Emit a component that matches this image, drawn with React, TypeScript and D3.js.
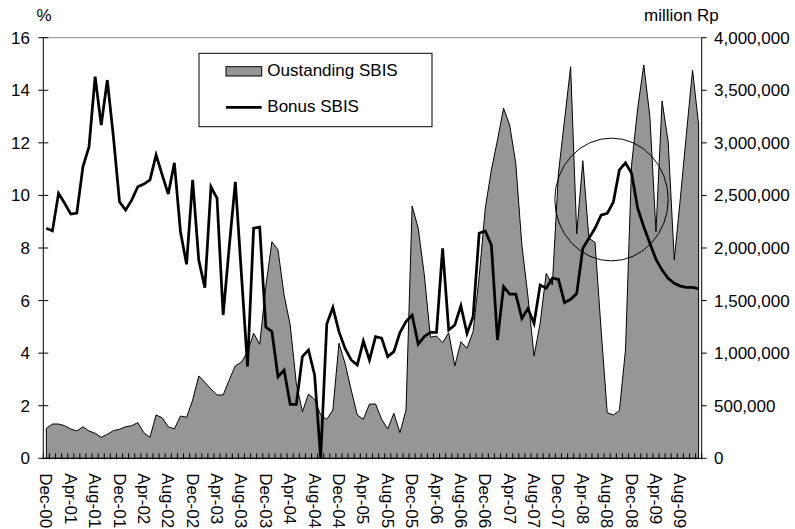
import React from "react";
import * as d3 from "d3";

const monthNames = ["Jan", "Feb", "Mar", "Apr", "May", "Jun", "Jul", "Aug", "Sep", "Oct", "Nov", "Dec"];
// Categories: Dec-00 .. Nov-09 (monthly)
const categories: string[] = (() => {
  const out: string[] = [];
  let m = 11, y = 0;
  for (let k = 0; k < 108; k++) {
    out.push(`${monthNames[m]}-${String(y).padStart(2, "0")}`);
    m++;
    if (m === 12) { m = 0; y++; }
  }
  return out;
})();

// Bonus SBIS (%), left axis
const bonusSBIS: number[] = [
  8.75, 8.65, 10.08, 9.7, 9.29, 9.33, 11.09, 11.85, 14.52, 12.68, 14.39, 12.23,
  9.76, 9.44, 9.82, 10.33, 10.43, 10.59, 11.54, 10.78, 10.05, 11.24, 8.62, 7.38,
  10.59, 7.54, 6.49, 10.33, 9.89, 5.45, 8.05, 10.52, 7.0, 3.49, 8.75, 8.79,
  4.99, 4.82, 3.10, 3.36, 2.05, 2.05, 3.87, 4.12, 3.17, 0, 5.11, 5.74,
  4.82, 4.18, 3.74, 3.55, 4.46, 3.74, 4.63, 4.57, 3.87, 4.06, 4.78, 5.20,
  5.45, 4.34, 4.63, 4.79, 4.79, 7.99, 4.88, 5.07, 5.80, 4.75, 5.39, 8.56,
  8.65, 8.11, 4.50, 6.53, 6.25, 6.25, 5.32, 5.70, 5.13, 6.59, 6.47, 6.85,
  6.81, 5.92, 6.05, 6.27, 7.99, 8.37, 8.75, 9.25, 9.32, 9.74, 10.97, 11.24,
  10.84, 9.51, 8.81, 8.18, 7.57, 7.16, 6.85, 6.66, 6.55, 6.50, 6.50, 6.45,
];

// Outstanding SBIS (million Rp), right axis
const outstandingSBIS: number[] = [
  285000, 326000, 326000, 310000, 279000, 260000, 300000, 260000, 238000, 200000, 228000, 263000,
  276000, 300000, 310000, 339000, 243000, 200000, 412000, 386000, 300000, 279000, 402000, 390000,
  554000, 783000, 723000, 659000, 602000, 602000, 745000, 881000, 913000, 1014000, 1189000, 1084000,
  1636000, 2060000, 1981000, 1553000, 1268000, 713000, 443000, 611000, 561000, 412000, 371000, 459000,
  1094000, 903000, 650000, 412000, 371000, 516000, 516000, 371000, 279000, 428000, 243000, 459000,
  2400000, 2187000, 1743000, 1151000, 1163000, 1100000, 1194000, 878000, 1109000, 1046000, 1204000, 1727000,
  2378000, 2742000, 3027000, 3329000, 3170000, 2806000, 2029000, 1537000, 973000, 1284000, 1759000, 1648000,
  2710000, 3217000, 3724000, 2133000, 2830000, 2092000, 2054000, 1220000, 434000, 412000, 453000, 1030000,
  2789000, 3329000, 3741000, 3249000, 2155000, 3398000, 3011000, 1886000, 2473000, 3091000, 3693000, 3170000,
];

const leftTicks = [0, 2, 4, 6, 8, 10, 12, 14, 16];
const rightTicks = [0, 500000, 1000000, 1500000, 2000000, 2500000, 3000000, 3500000, 4000000];
const legendLabels = ["Oustanding SBIS", "Bonus SBIS"];

const W = 795, H = 529;
const L = 43.3, R = 701.7, T = 37.7, B = 458.3;
const FONT = "'Liberation Sans', Arial, sans-serif";
const FS = 17;

export default function App() {
  const idx = d3.range(categories.length);
  const x = d3.scaleBand<number>().domain(idx).range([L, R]).paddingInner(0).paddingOuter(0);
  const bw = x.bandwidth();
  const cx = (i: number) => (x(i) as number) + bw / 2;
  const yL = d3.scaleLinear().domain([0, 16]).range([B, T]);
  const yR = d3.scaleLinear().domain([0, 4000000]).range([B, T]);

  const areaPath = d3.area<number>().x((_, i) => cx(i)).y0(yR(0)).y1((d) => yR(d))(outstandingSBIS) || "";
  const linePath = d3.line<number>().x((_, i) => cx(i)).y((d) => yL(d))(bonusSBIS) || "";
  const fmt = d3.format(",");

  return (
    <svg width={W} height={H} style={{ position: "absolute", left: 0, top: 0, display: "block", background: "#fff" }}
      fontFamily={FONT} fontSize={FS}>
      <rect x={0} y={0} width={W} height={H} fill="#fff" />
      {/* top gridline */}
      <line x1={L} x2={R} y1={T} y2={T} stroke="#8a8a8a" strokeWidth={1} />
      {/* area */}
      <path d={areaPath} fill="#969696" stroke="#000" strokeWidth={1} />
      {/* line */}
      <path d={linePath} fill="none" stroke="#000" strokeWidth={2.75} />
      {/* left axis */}
      <line x1={L} x2={L} y1={T} y2={B} stroke="#000" strokeWidth={1} />
      {leftTicks.map((t) => (
        <g key={"l" + t}>
          <line x1={L - 5} x2={L + 5} y1={yL(t)} y2={yL(t)} stroke="#000" strokeWidth={1} />
          <text x={30} y={yL(t)} dy="0.35em" textAnchor="end">{t}</text>
        </g>
      ))}
      {/* right axis */}
      <line x1={R} x2={R} y1={T} y2={B} stroke="#000" strokeWidth={1} />
      {rightTicks.map((t) => (
        <g key={"r" + t}>
          <line x1={R} x2={R + 5} y1={yR(t)} y2={yR(t)} stroke="#000" strokeWidth={1} />
          <text x={714} y={yR(t)} dy="0.35em" textAnchor="start">{fmt(t)}</text>
        </g>
      ))}
      {/* x axis */}
      <line x1={L} x2={R} y1={B} y2={B} stroke="#000" strokeWidth={1} />
      {d3.range(categories.length + 1).map((k) => {
        const xx = L + k * bw;
        return <line key={"t" + k} x1={xx} x2={xx} y1={B - 5} y2={B + 1} stroke="#000" strokeWidth={1} />;
      })}
      {categories.map((c, i) =>
        i % 4 === 0 ? (
          <text key={"c" + i} transform={`translate(${cx(i)},${B + 15}) rotate(90)`} dy="0.35em" textAnchor="start">{c}</text>
        ) : null
      )}
      {/* axis titles */}
      <text x={36.5} y={21}>%</text>
      <text x={644} y={21}>million Rp</text>
      {/* legend */}
      <rect x={199} y={53.3} width={233} height={73.4} fill="#fff" stroke="#000" strokeWidth={1} />
      <rect x={226} y={66.7} width={35.7} height={9.3} fill="#969696" stroke="#000" strokeWidth={1} />
      <text x={267.3} y={76}>{legendLabels[0]}</text>
      <line x1={226} x2={261.7} y1={107.3} y2={107.3} stroke="#000" strokeWidth={2.75} />
      <text x={267.3} y={112}>{legendLabels[1]}</text>
      {/* annotation circle */}
      <ellipse cx={611.5} cy={199.5} rx={56.7} ry={61.4} fill="none" stroke="#000" strokeWidth={1} />
    </svg>
  );
}
